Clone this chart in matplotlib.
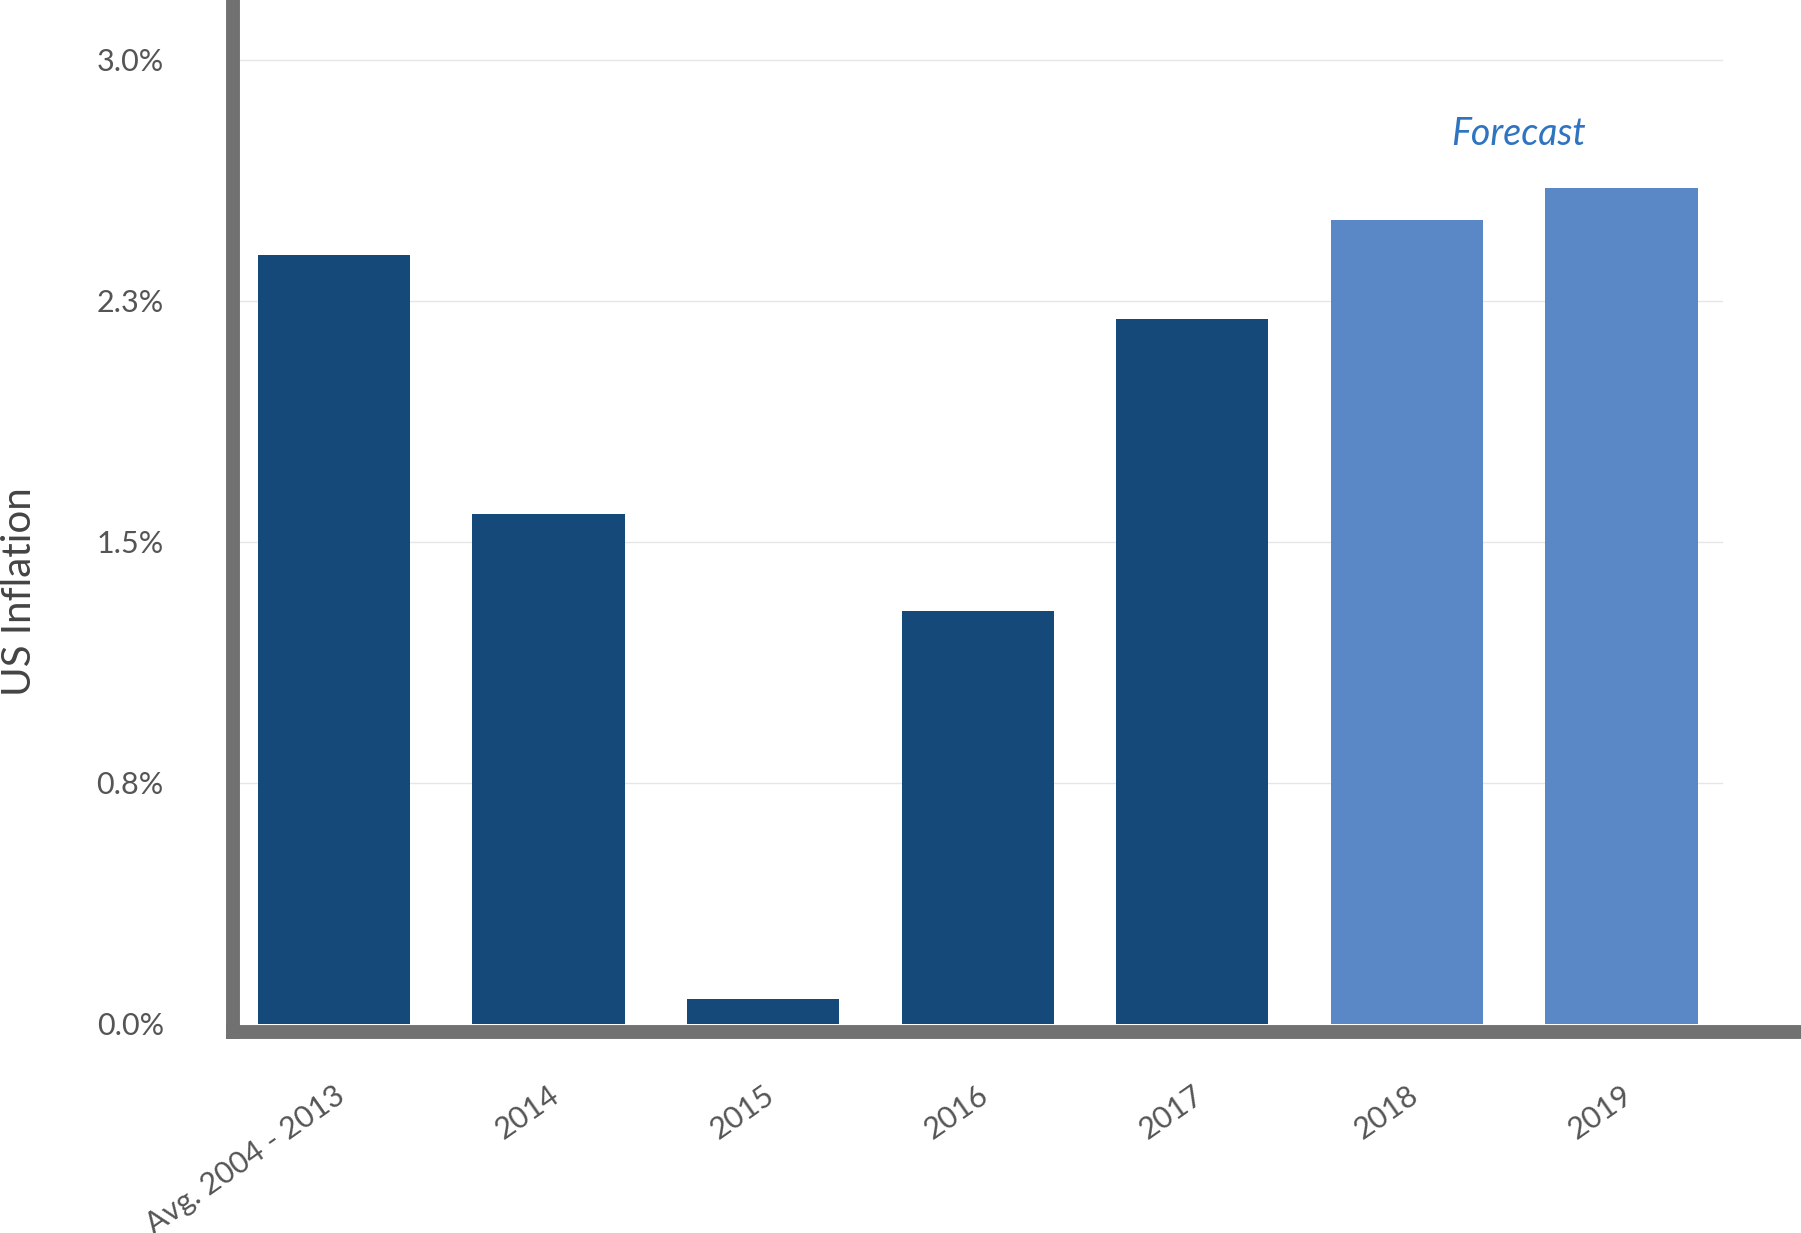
import matplotlib
matplotlib.use("Agg")
import matplotlib.pyplot as plt

categories = ["Avg. 2004 - 2013", "2014", "2015", "2016", "2017", "2018", "2019"]
values = [2.394, 1.588, 0.078, 1.284, 2.194, 2.501, 2.601]
forecast = [False, False, False, False, False, True, True]
yticks = [0, 0.75, 1.5, 2.25, 3.0]
ytick_labels = ["0.0%", "0.8%", "1.5%", "2.3%", "3.0%"]

plt.rcParams['font.family'] = ['Lato', 'DejaVu Sans']
fig = plt.figure(figsize=(18.01, 12.33), dpi=100)
ax = fig.add_axes([0.1295, 0.163, 0.8685, 0.834])
x = list(range(len(categories)))
colors = ["#5a88c6" if f else "#14497a" for f in forecast]
for yt in yticks[1:]:
    ax.plot([-0.47, 6.47], [yt, yt], color="#e6e6e6", lw=1, zorder=0)
ax.bar(x, values, width=0.71, color=colors, zorder=2)
ax.set_xlim(-0.47, 6.82)
ax.set_ylim(-0.025, 3.175)
ax.set_yticks(yticks)
ax.set_yticklabels(ytick_labels)
ax.set_xticks(x)
ax.set_xticklabels(categories, rotation=35, ha="right", rotation_mode="anchor", fontsize=22)
ax.tick_params(axis="both", length=0, labelsize=22, colors="#555555")
ax.tick_params(axis="y", pad=50)
ax.tick_params(axis="x", pad=35)
for s in ["top", "right"]:
    ax.spines[s].set_visible(False)
for s in ["left", "bottom"]:
    ax.spines[s].set_color("#717171")
    ax.spines[s].set_linewidth(10)
fig.text(0.011, 0.52, "US Inflation", fontsize=29, color="#444444",
         rotation=90, ha="center", va="center")
ax.text(5.52, 2.77, "Forecast", color="#2f74c0", style="italic", fontsize=27,
        ha="center", va="center")
fig.savefig("out.png", dpi=100)
